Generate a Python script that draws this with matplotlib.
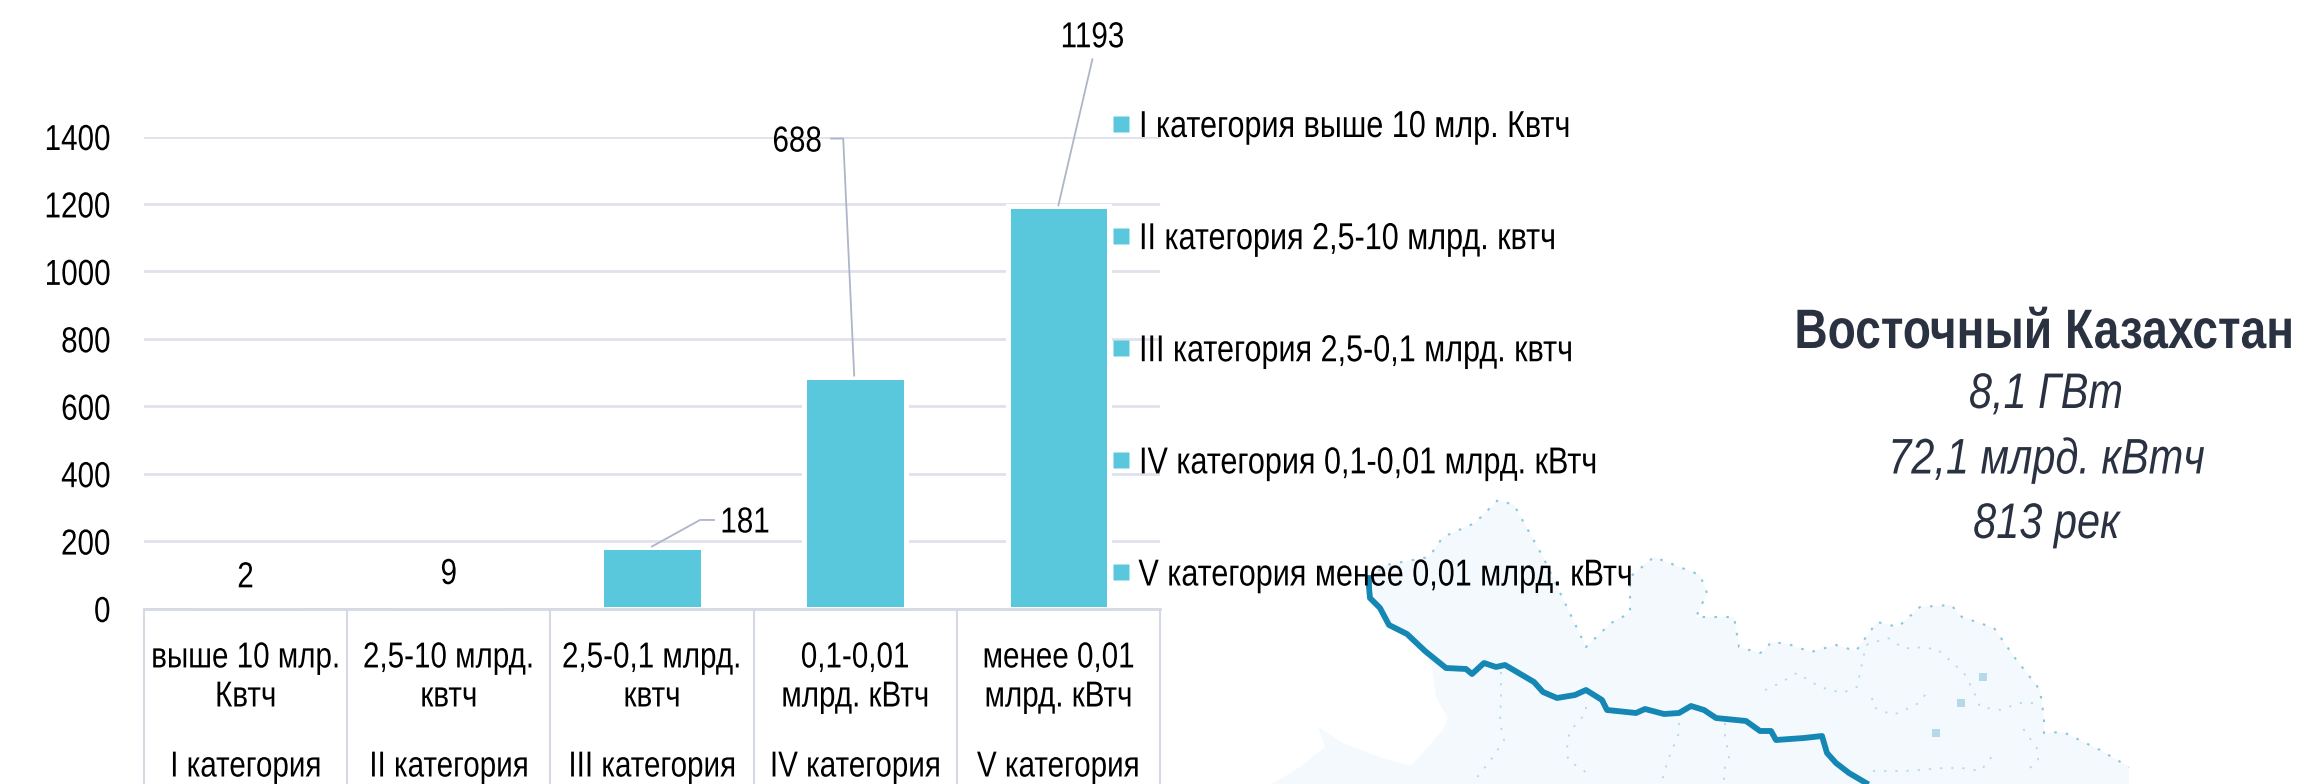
import matplotlib
matplotlib.use("Agg")
import matplotlib.pyplot as plt
from matplotlib.lines import Line2D
from matplotlib.patheffects import AbstractPathEffect
from matplotlib.transforms import Affine2D, IdentityTransform

plt.rcParams["font.family"] = ["Liberation Sans", "DejaVu Sans"]

# chart data
category_ranges = [
    "выше 10 млр.\nКвтч",
    "2,5-10 млрд.\nквтч",
    "2,5-0,1 млрд.\nквтч",
    "0,1-0,01\nмлрд. кВтч",
    "менее 0,01\nмлрд. кВтч",
]
category_names = ["I категория", "II категория", "III категория", "IV категория", "V категория"]
values = [2, 9, 181, 688, 1193]
y_ticks = [0, 200, 400, 600, 800, 1000, 1200, 1400]
legend_labels = [
    "I категория выше 10 млр. Квтч",
    "II категория 2,5-10 млрд. квтч",
    "III категория 2,5-0,1 млрд. квтч",
    "IV категория 0,1-0,01 млрд. кВтч",
    "V категория менее 0,01 млрд. кВтч",
]
title = "Восточный Казахстан"
facts = ["8,1 ГВт", "72,1 млрд. кВтч", "813 рек"]

# map background, traced in image pixels
river_x = [1369, 1369, 1370, 1380, 1389, 1407, 1425, 1446, 1466, 1472, 1484, 1496, 1505, 1534, 1543, 1557,
           1575, 1586, 1602, 1607, 1636, 1645, 1664, 1679, 1691, 1704, 1716, 1746, 1760, 1771, 1776,
           1804, 1822, 1827, 1836, 1849, 1866]
river_y = [578, 587, 598, 608, 625, 634, 651, 668, 669, 674, 663, 667, 665, 682, 692, 698, 695, 690, 700,
           710, 713, 709, 714, 713, 706, 710, 718, 721, 731, 731, 740, 738, 736, 753, 763, 773, 783]
border_x = [1369, 1386, 1429, 1443, 1475, 1498, 1514, 1543, 1586, 1611, 1630, 1630, 1654, 1700, 1707,
            1696, 1734, 1739, 1760, 1765, 1771, 1788, 1811, 1836, 1856, 1877, 1898, 1920, 1951, 1962,
            1994, 2015, 2040, 2044, 2044, 2063, 2100, 2129]
border_y = [578, 565, 557, 537, 523, 500, 505, 557, 647, 623, 613, 577, 557, 575, 593, 617, 617, 647,
            653, 650, 642, 644, 652, 645, 651, 622, 627, 607, 605, 617, 628, 658, 690, 718, 733, 732,
            750, 767]
# rest of the region outline, from the bottom right corner round to the river
outline_x = [2129, 1271, 1279, 1300, 1325, 1318, 1343, 1379, 1411, 1443, 1448, 1436, 1432, 1425, 1407, 1389, 1380]
outline_y = [784, 784, 780, 767, 747, 727, 743, 757, 766, 730, 718, 697, 667, 651, 634, 625, 608]
tributary_xs = [
    [1501, 1501, 1500, 1504, 1493, 1475],
    [1586, 1586, 1571, 1567, 1568, 1593],
    [1679, 1679, 1668, 1661],
    [1725, 1725, 1729, 1724, 1724],
    [1765, 1780, 1797, 1820, 1842, 1857, 1866, 1888, 1905, 1912, 1937, 1964, 1973, 1980, 2001, 2019, 2033],
    [1872, 1873, 1893, 1916, 1927],
    [1873, 1905, 1944, 1962, 1980, 1990, 1992],
    [2030, 2038, 2038, 2022],
]
tributary_ys = [
    [672, 697, 723, 740, 757, 780],
    [707, 713, 730, 740, 760, 777],
    [723, 733, 760, 784],
    [723, 735, 757, 770, 784],
    [690, 683, 673, 687, 693, 687, 645, 638, 649, 647, 649, 673, 690, 707, 710, 703, 703],
    [698, 707, 715, 705, 693],
    [771, 771, 768, 768, 771, 760, 753],
    [768, 760, 750, 727],
]
lake_x = [1983, 1936, 1961]
lake_y = [677, 733, 703]


class Condense(AbstractPathEffect):
    """Squeeze real text sideways, the reference has it stretched to a narrow cut."""

    def __init__(self, sx=0.82, anchor=0.5):
        self.sx = sx
        self.anchor = anchor

    def draw_path(self, renderer, gc, tpath, affine, rgbFace=None):
        box = tpath.get_extents()
        x0 = box.x0 + self.anchor * box.width
        squeeze = Affine2D().translate(-x0, 0).scale(self.sx, 1).translate(x0, 0)
        renderer.draw_path(gc, tpath, squeeze + affine, rgbFace)


BAR_COLOR = "#5AC8DC"
GRID_COLOR = "#DFE2EC"
AXIS_COLOR = "#D5D9E4"
LEADER_COLOR = "#AEB5C8"
TITLE_COLOR = "#2A3242"
RIVER_COLOR = "#1487B5"
TEXT_SIZE = 26

W, H = 2316, 784
AX_LEFT, AX_RIGHT, AX_ZERO, AX_TOP = 144, 1160, 608.5, 136.5

fig = plt.figure(figsize=(W / 100, H / 100), dpi=100)

# full-figure layer in image pixels for the map and the side text
page = fig.add_axes([0, 0, 1, 1], zorder=0)
page.set_xlim(0, W)
page.set_ylim(H, 0)
page.axis("off")
page.fill(border_x + outline_x, border_y + outline_y, color="#F4F9FD", lw=0)
page.plot(border_x, border_y, color="#8CC5DE", lw=1.5, ls=(0, (1.2, 4.5)))
for xs, ys in zip(tributary_xs, tributary_ys):
    page.plot(xs, ys, color="#B4DAEA", lw=1.3, ls=(0, (1.2, 5)))
page.scatter(lake_x, lake_y, marker="s", s=40, color="#B4DAEA", lw=0)
page.plot(river_x, river_y, color=RIVER_COLOR, lw=4.2, solid_joinstyle="round")

# title is right-anchored so its unsqueezed box stays inside the image
t = page.text(2300, 334, title, fontsize=40, fontweight="bold", color=TITLE_COLOR, ha="right", va="center")
t.set_path_effects([Condense(sx=0.83, anchor=0.94)])
for i, fact in enumerate(facts):
    t = page.text(2046, 395 + 65 * i, fact, fontsize=36, fontstyle="italic", color=TITLE_COLOR,
                  ha="center", va="center")
    t.set_path_effects([Condense(sx=0.83)])

# bar chart
ax = fig.add_axes([AX_LEFT / W, (H - AX_ZERO) / H, (AX_RIGHT - AX_LEFT) / W, (AX_ZERO - AX_TOP) / H], zorder=1)
ax.patch.set_alpha(0)
positions = list(range(len(values)))
ax.bar(positions, values, width=0.5, color=BAR_COLOR, edgecolor="white", linewidth=3.6, zorder=2)
ax.set_xlim(-0.5, len(values) - 0.5)
ax.set_ylim(0, 1400)

for side in ["top", "right", "left"]:
    ax.spines[side].set_visible(False)
ax.spines["bottom"].set_color(AXIS_COLOR)
ax.spines["bottom"].set_linewidth(2)

ax.set_yticks(y_ticks)
ax.tick_params(axis="y", length=0, pad=24, labelsize=TEXT_SIZE)
ax.grid(axis="y", color=GRID_COLOR, lw=2, zorder=1)
ax.set_axisbelow(True)
for label in ax.get_yticklabels():
    label.set_path_effects([Condense(anchor=1)])

# separators between categories run down to the image edge
ax.set_xticks([p - 0.5 for p in positions] + [positions[-1] + 0.5])
ax.set_xticklabels([])
ax.tick_params(axis="x", which="major", length=127, width=1.5, color=AXIS_COLOR)
ax.set_xticks(positions, minor=True)
ax.set_xticklabels(category_ranges, minor=True, fontsize=TEXT_SIZE, linespacing=1.15)
ax.tick_params(axis="x", which="minor", length=0, pad=23)
for label in ax.get_xticklabels(minor=True):
    label.set_path_effects([Condense()])

group_y = (AX_ZERO - 767) / (AX_ZERO - AX_TOP)
for p, name in zip(positions, category_names):
    t = ax.text(p, group_y, name, transform=ax.get_xaxis_transform(), fontsize=TEXT_SIZE,
                ha="center", va="center")
    t.set_path_effects([Condense()])

# value labels and their leader lines, offsets in pixels from the bar top
label_offsets = [(0, 30), (0, 31), (93, 24.5), (-58, 234.5), (34, 168.5)]
leader_offsets = [None, None, [(0, 1), (48, 27.5), (62, 27.5)], [(-1, 1), (-12, 238), (-24, 238)], [(0, 1), (34, 147)]]
for p, v, off, leader in zip(positions, values, label_offsets, leader_offsets):
    t = ax.annotate(str(v), xy=(p, v), xytext=off, textcoords="offset pixels", fontsize=TEXT_SIZE,
                    ha="center", va="center")
    t.set_path_effects([Condense()])
    if leader:
        x0, y0 = ax.transData.transform((p, v))
        ax.plot([x0 + dx for dx, dy in leader], [y0 + dy for dx, dy in leader], color=LEADER_COLOR,
                lw=1.3, transform=IdentityTransform(), clip_on=False, zorder=3)

handles = [Line2D([], [], ls="none", marker="s", ms=11.5, color=BAR_COLOR, mec="none") for _ in legend_labels]
leg = fig.legend(handles, legend_labels, loc="upper left", bbox_to_anchor=(1102 / W, 1 - 109 / H),
                 frameon=False, fontsize=27, labelspacing=2.03, handlelength=1, handletextpad=-0.03,
                 borderpad=0, borderaxespad=0)
leg.set_zorder(2)
for label in leg.get_texts():
    label.set_path_effects([Condense(sx=0.815, anchor=0)])

fig.savefig("out.png", dpi=100)
